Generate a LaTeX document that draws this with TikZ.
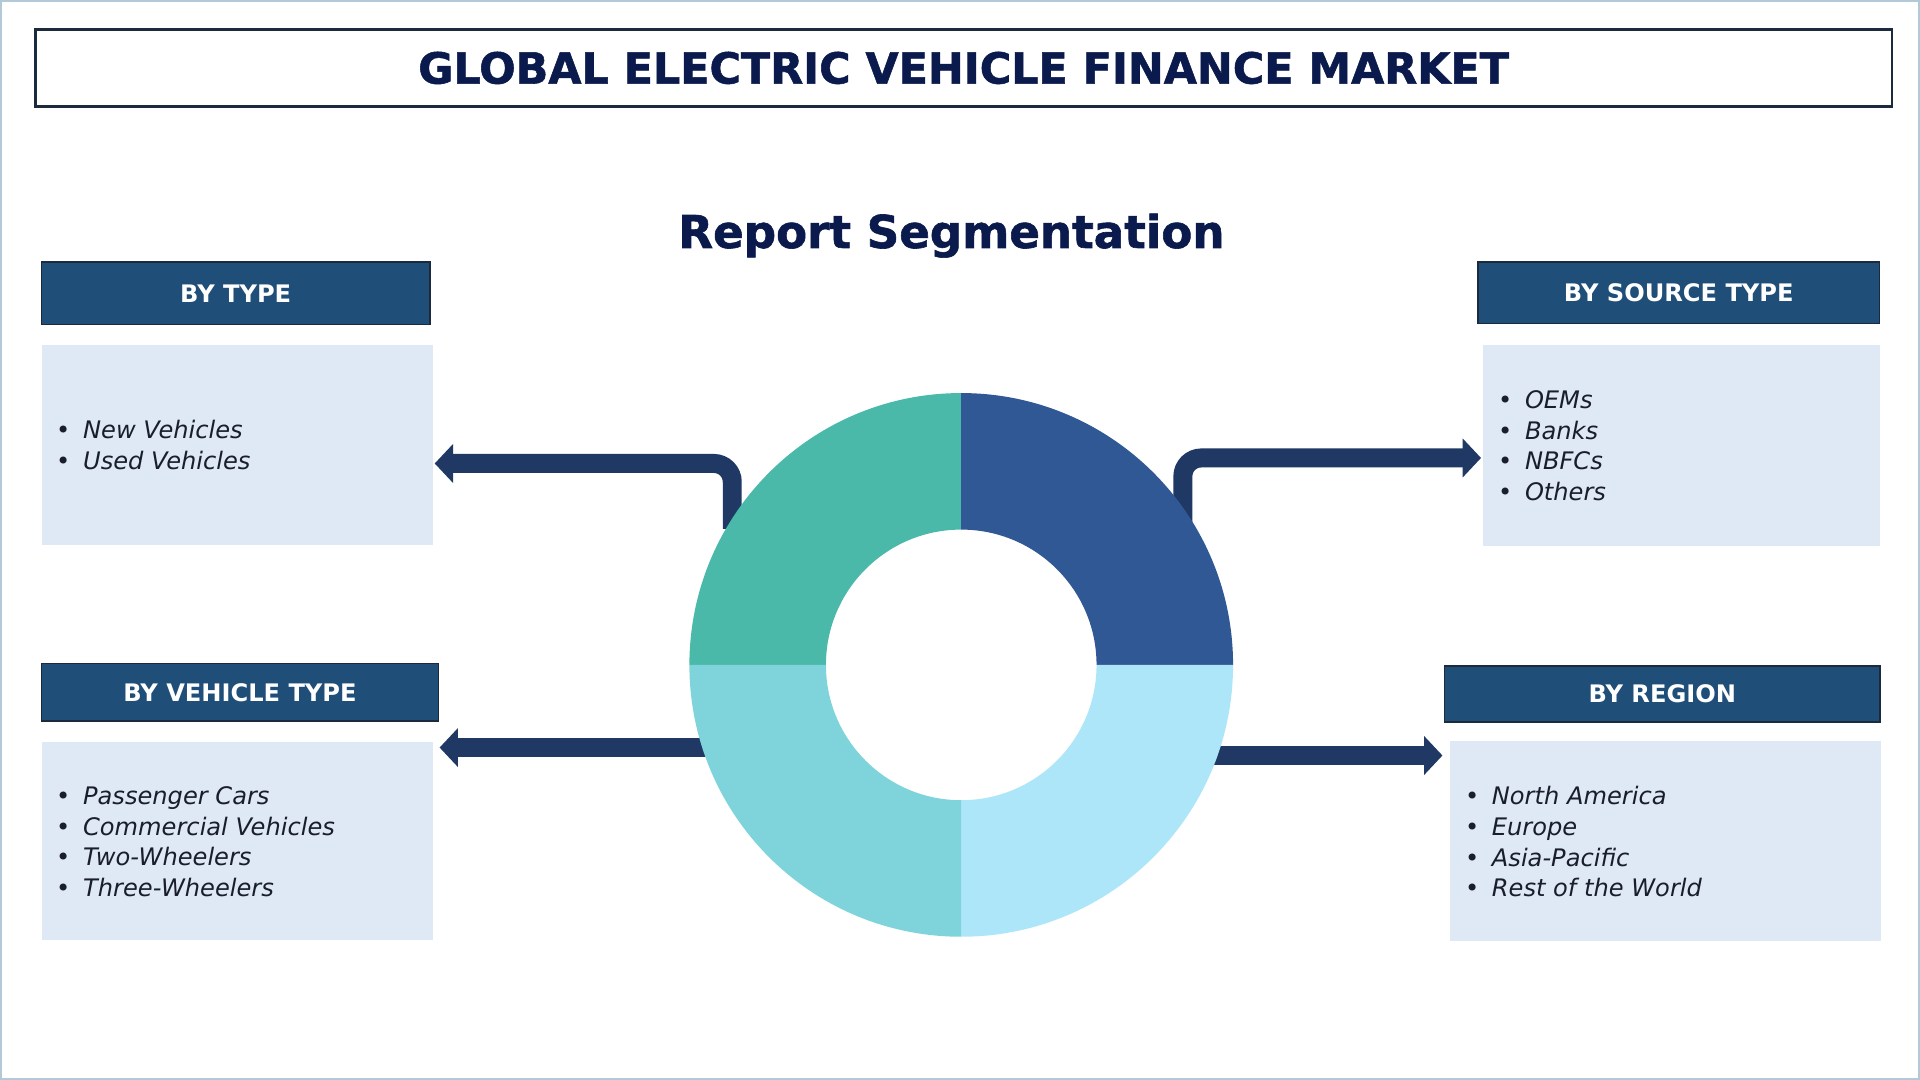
\documentclass[tikz,border=0pt]{standalone}
\usepackage{fontspec}
\setmainfont{DejaVu Sans}
\newfontfamily\heavyfont{DejaVu Sans}[BoldFeatures={FakeBold=1.3}]
\usetikzlibrary{arrows.meta}
\definecolor{framecol}{HTML}{B3C9D8}
\definecolor{titlecol}{HTML}{0B1A4C}
\definecolor{headfill}{HTML}{1F4E79}
\definecolor{headline}{HTML}{1B2B3D}
\definecolor{boxfill}{HTML}{DEE9F5}
\definecolor{arrowcol}{HTML}{1F3864}
\definecolor{itemcol}{HTML}{1A1E2C}
\definecolor{qtl}{HTML}{4BB9A9}
\definecolor{qtr}{HTML}{305895}
\definecolor{qbr}{HTML}{AEE6F9}
\definecolor{qbl}{HTML}{7ED4DA}
\tikzset{
  headbox/.style={fill=headfill, draw=headline, line width=0.6pt, inner sep=0pt,
    text=white, font=\bfseries\fontsize{9.85}{12}\selectfont},
  contentbox/.style={fill=boxfill, draw=none, inner sep=0pt},
  itemlist/.style={anchor=west, align=left, inner sep=0pt, text=itemcol,
    font=\fontsize{9.85}{12.5}\selectfont\itshape},
  arr/.style={draw=arrowcol, line width=7.75pt, rounded corners=7.5pt,
    -{Triangle[length=7.5pt,width=15.5pt]}},
}
\newcommand{\itm}[1]{\makebox[11pt][l]{\upshape\textbullet}#1}
\begin{document}
\begin{tikzpicture}[x=0.5pt,y=-0.5pt]
\useasboundingbox (0,0) rectangle (1568,882);
\fill[white] (0,0) rectangle (1568,882);
\draw[framecol, line width=1.1pt] (0.6,0.6) rectangle (1567.4,881.4);

% title
\node[draw=headline, line width=1pt, minimum width=758pt, minimum height=31.5pt,
  inner sep=0pt, text=titlecol, font=\heavyfont\bfseries\fontsize{17.5}{20}\selectfont]
  (title) at (787,55.5) {GLOBAL ELECTRIC VEHICLE FINANCE MARKET};
\node[anchor=base, inner sep=0pt, text=titlecol, font=\heavyfont\bfseries\fontsize{18.45}{20}\selectfont]
  (seg) at (777,202.5) {Report Segmentation};

% headers
\node[headbox, minimum width=158.5pt, minimum height=25.5pt] (hType) at (192.5,239.5) {BY TYPE};
\node[headbox, minimum width=164pt, minimum height=25pt] (hSource) at (1371,239) {BY SOURCE TYPE};
\node[headbox, minimum width=162pt, minimum height=23.5pt] (hVehicle) at (196,565.5) {BY VEHICLE TYPE};
\node[headbox, minimum width=178pt, minimum height=22.8pt] (hRegion) at (1357.5,566.8) {BY REGION};

% content boxes
\node[contentbox, minimum width=160pt, minimum height=81.5pt] (bType) at (194,363.5) {};
\node[contentbox, minimum width=162pt, minimum height=82pt] (bSource) at (1373,364) {};
\node[contentbox, minimum width=160pt, minimum height=81pt] (bVehicle) at (194,687) {};
\node[contentbox, minimum width=176pt, minimum height=81.5pt] (bRegion) at (1360,686.8) {};

% item lists
\node[itemlist] (lType) at (45.5,363.5) {\itm{New Vehicles}\\\itm{Used Vehicles}};
\node[itemlist] (lSource) at (1223,364) {\itm{OEMs}\\\itm{Banks}\\\itm{NBFCs}\\\itm{Others}};
\node[itemlist] (lVehicle) at (45.5,687.5) {\itm{Passenger Cars}\\\itm{Commercial Vehicles}\\\itm{Two-Wheelers}\\\itm{Three-Wheelers}};
\node[itemlist] (lRegion) at (1196,687.5) {\itm{North America}\\\itm{Europe}\\\itm{Asia-Pacific}\\\itm{Rest of the World}};

% connector coordinates
\coordinate (donut) at (785,543);
\coordinate (s1) at (598,432);
\coordinate (c1) at (598,378.5);
\coordinate (t1) at (355,378.5);
\coordinate (s2) at (966,428);
\coordinate (c2) at (966,374);
\coordinate (t2) at (1209.5,374);
\coordinate (s3) at (590,610.5);
\coordinate (t3) at (359,610.5);
\coordinate (s4) at (985,617);
\coordinate (t4) at (1178,617);

\draw[arr] (s1) -- (c1) -- (t1);
\draw[arr] (s2) -- (c2) -- (t2);
\draw[arr] (s3) -- (t3);
\draw[arr] (s4) -- (t4);

% donut
\begin{scope}[shift={(donut)}, y=0.5pt]
  \fill[qtl] (180:222) arc[start angle=180, end angle=90, radius=222]
     -- (90:110.5) arc[start angle=90, end angle=180, radius=110.5] -- cycle;
  \fill[qtr] (90:222) arc[start angle=90, end angle=0, radius=222]
     -- (0:110.5) arc[start angle=0, end angle=90, radius=110.5] -- cycle;
  \fill[qbr] (0:222) arc[start angle=0, end angle=-90, radius=222]
     -- (-90:110.5) arc[start angle=-90, end angle=0, radius=110.5] -- cycle;
  \fill[qbl] (-90:222) arc[start angle=-90, end angle=-180, radius=222]
     -- (-180:110.5) arc[start angle=-180, end angle=-90, radius=110.5] -- cycle;
\end{scope}
\end{tikzpicture}
\end{document}
